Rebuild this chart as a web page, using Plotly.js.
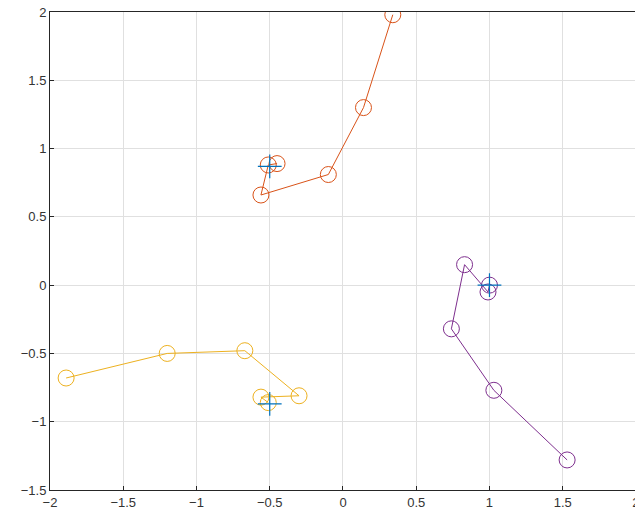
<!DOCTYPE html>
<html>
<head>
<meta charset="utf-8">
<script src="https://cdn.plot.ly/plotly-3.0.1.min.js"></script>
<style>html,body{margin:0;padding:0;overflow:hidden;background:#fff}</style>
</head>
<body>
<div id="chart"></div>
<script>
// Orange series
const orangeX = [0.34, 0.14, -0.10, -0.56, -0.51, -0.45];
const orangeY = [1.98, 1.30, 0.81, 0.66, 0.88, 0.89];
// Yellow series
const yellowX = [-1.89, -1.20, -0.67, -0.30, -0.56, -0.51];
const yellowY = [-0.68, -0.50, -0.48, -0.81, -0.82, -0.86];
// Purple series
const purpleX = [1.53, 1.03, 0.74, 0.83, 0.99, 1.00];
const purpleY = [-1.28, -0.77, -0.32, 0.15, -0.05, 0.00];
// Cross centres
const crossX = [-0.5, -0.5, 1.0];
const crossY = [0.87, -0.87, 0.0];

const xTicks = [-2, -1.5, -1, -0.5, 0, 0.5, 1, 1.5, 2];
const yTicks = [-1.5, -1, -0.5, 0, 0.5, 1, 1.5, 2];

function series(x, y, color) {
  return {
    x: x, y: y, type: 'scatter', mode: 'lines+markers',
    line: {color: color, width: 1},
    marker: {symbol: 'circle-open', size: 16, color: color, line: {width: 1, color: color}},
    hoverinfo: 'none', showlegend: false
  };
}

const traces = [
  series(orangeX, orangeY, '#D95319'),
  series(yellowX, yellowY, '#EDB120'),
  series(purpleX, purpleY, '#7E2F8E'),
  {
    x: crossX, y: crossY, type: 'scatter', mode: 'markers',
    marker: {symbol: 'cross-thin-open', size: 17, color: '#0072BD', line: {width: 1.2, color: '#0072BD'}},
    hoverinfo: 'none', showlegend: false
  }
];

const axisCommon = {
  showgrid: true, gridcolor: '#e0e0e0', gridwidth: 1,
  zeroline: false, showline: true, linecolor: '#262626', linewidth: 1,
  mirror: true, ticks: 'inside', ticklen: 4, tickcolor: '#262626',
  ticklabeloverflow: 'allow',
  tickfont: {family: 'Liberation Sans, Arial, sans-serif', size: 13, color: '#333'}
};

const fmt = v => String(v).replace('-', '\u2212');

const layout = {
  width: 637, height: 518,
  margin: {l: 50, r: 1, t: 12, b: 28},
  paper_bgcolor: '#fff', plot_bgcolor: '#fff',
  xaxis: Object.assign({}, axisCommon, {range: [-2, 2.0002], tickvals: xTicks, ticktext: xTicks.map(fmt)}),
  yaxis: Object.assign({}, axisCommon, {range: [-1.5, 2], tickvals: yTicks, ticktext: yTicks.map(fmt)}),
  showlegend: false
};

Plotly.newPlot('chart', traces, layout, {staticPlot: true, displayModeBar: false});
</script>
</body>
</html>
